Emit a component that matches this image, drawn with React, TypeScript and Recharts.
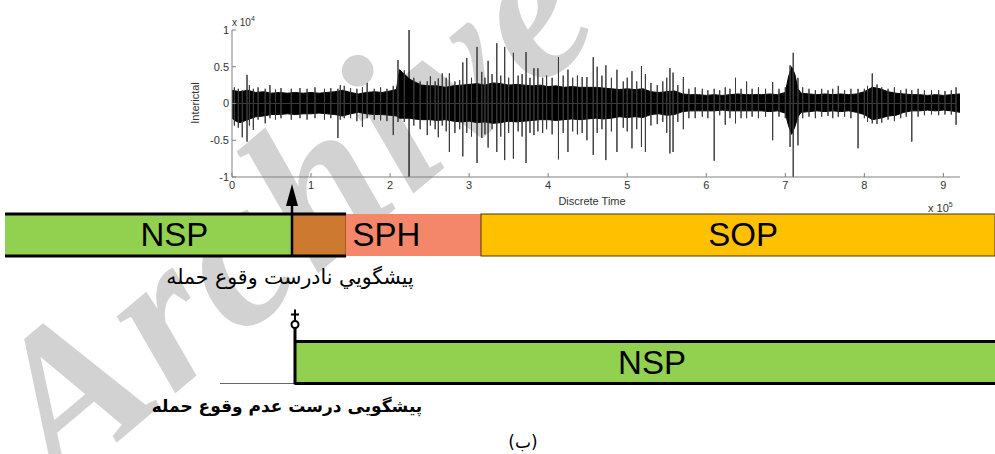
import {
  ComposedChart,
  Area,
  Line,
  XAxis,
  YAxis,
  ReferenceLine,
  BarChart,
  Bar
} from 'recharts'

// dense part of the recording: envelope of the black band (t in 1e5 samples, amplitude in 1e4)
const ENV_T = [
  0, 0.05, 0.1, 0.2, 0.3, 0.4, 0.5, 0.6, 0.7, 0.8,
  0.9, 1.0, 1.1, 1.2, 1.3, 1.4, 1.5, 1.6, 1.7, 1.8,
  1.9, 2.0, 2.08, 2.12, 2.16, 2.2, 2.25, 2.3, 2.4, 2.5,
  2.6, 2.7, 2.8, 2.9, 3.0, 3.1, 3.2, 3.3, 3.4, 3.5,
  3.6, 3.7, 3.8, 3.9, 4.0, 4.1, 4.2, 4.3, 4.4, 4.5,
  4.6, 4.7, 4.8, 4.9, 5.0, 5.1, 5.2, 5.3, 5.4, 5.5,
  5.6, 5.7, 5.8, 5.9, 6.0, 6.1, 6.2, 6.3, 6.4, 6.5,
  6.6, 6.7, 6.8, 6.9, 7.0, 7.04, 7.08, 7.12, 7.16, 7.2,
  7.3, 7.4, 7.5, 7.6, 7.7, 7.8, 7.9, 8.0, 8.1, 8.2,
  8.3, 8.4, 8.5, 8.6, 8.7, 8.8, 8.9, 9.0, 9.1, 9.21
]
const ENV_HI = [
  0.18, 0.17, 0.16, 0.18, 0.15, 0.16, 0.14, 0.15, 0.14, 0.15,
  0.14, 0.15, 0.14, 0.15, 0.16, 0.18, 0.15, 0.13, 0.15, 0.16,
  0.15, 0.17, 0.19, 0.46, 0.42, 0.38, 0.33, 0.3, 0.25, 0.24,
  0.24, 0.22, 0.24, 0.25, 0.26, 0.27, 0.25, 0.28, 0.27, 0.25,
  0.26, 0.25, 0.24, 0.25, 0.23, 0.24, 0.22, 0.23, 0.22, 0.22,
  0.22, 0.21, 0.2, 0.19, 0.2, 0.19, 0.2, 0.16, 0.15, 0.16,
  0.17, 0.13, 0.12, 0.12, 0.11, 0.12, 0.11, 0.12, 0.13, 0.12,
  0.12, 0.12, 0.13, 0.12, 0.15, 0.36, 0.5, 0.4, 0.2, 0.14,
  0.13, 0.12, 0.13, 0.12, 0.13, 0.12, 0.13, 0.16, 0.22, 0.2,
  0.16, 0.14, 0.13, 0.12, 0.12, 0.11, 0.12, 0.11, 0.12, 0.13
]
const ENV_LO = [
  -0.2, -0.24, -0.26, -0.22, -0.18, -0.17, -0.15, -0.15, -0.14, -0.15,
  -0.14, -0.14, -0.13, -0.14, -0.15, -0.17, -0.14, -0.12, -0.14, -0.15,
  -0.15, -0.16, -0.17, -0.2, -0.2, -0.2, -0.2, -0.21, -0.22, -0.22,
  -0.23, -0.22, -0.24, -0.25, -0.24, -0.26, -0.25, -0.27, -0.26, -0.24,
  -0.25, -0.24, -0.23, -0.22, -0.22, -0.23, -0.22, -0.21, -0.22, -0.21,
  -0.2, -0.21, -0.2, -0.18, -0.19, -0.18, -0.19, -0.15, -0.14, -0.16,
  -0.15, -0.11, -0.1, -0.1, -0.1, -0.1, -0.09, -0.1, -0.1, -0.1,
  -0.1, -0.1, -0.11, -0.1, -0.13, -0.3, -0.42, -0.32, -0.18, -0.12,
  -0.11, -0.1, -0.11, -0.1, -0.11, -0.1, -0.12, -0.15, -0.22, -0.2,
  -0.17, -0.16, -0.12, -0.1, -0.1, -0.09, -0.1, -0.09, -0.1, -0.12
]

// single spikes sticking out of the band
const SPIKE_T = [
  0.03, 0.08, 0.13, 0.19, 0.22, 0.27, 0.33, 0.42, 0.48, 0.55,
  0.62, 0.75, 0.86, 0.95, 1.05, 1.17, 1.25, 1.34, 1.37, 1.42,
  1.5, 1.58, 1.65, 1.71, 1.8, 1.88, 1.96, 2.04, 2.1, 2.18,
  2.3, 2.38, 2.47, 2.51, 2.57, 2.61, 2.66, 2.71, 2.75, 2.82,
  2.88, 2.92, 2.97, 3.03, 3.1, 3.16, 3.2, 3.24, 3.29, 3.35,
  3.4, 3.45, 3.5, 3.56, 3.62, 3.67, 3.72, 3.77, 3.82, 3.87,
  3.93, 3.98, 4.05, 4.13, 4.19, 4.25, 4.31, 4.37, 4.43, 4.49,
  4.57, 4.62, 4.68, 4.73, 4.8, 4.87, 4.95, 5.0, 5.06, 5.12,
  5.18, 5.23, 5.3, 5.38, 5.45, 5.5, 5.54, 5.58, 5.64, 5.71,
  5.78, 5.86, 5.95, 6.02, 6.1, 6.17, 6.24, 6.3, 6.37, 6.44,
  6.51, 6.58, 6.66, 6.75, 6.84, 6.92, 7.0, 7.06, 7.1, 7.16,
  7.22, 7.3, 7.38, 7.46, 7.54, 7.6, 7.67, 7.75, 7.83, 7.92,
  8.0, 8.04, 8.1, 8.16, 8.22, 8.3, 8.38, 8.46, 8.53, 8.6,
  8.68, 8.76, 8.85, 8.94, 9.02, 9.1, 9.16
]
const SPIKE_HI = [
  0.22, 0.2, 0.18, 0.39, 0.25, 0.2, 0.22, 0.2, 0.25, 0.19,
  0.21, 0.2, 0.21, 0.2, 0.22, 0.2, 0.21, 0.2, 0.25, 0.24,
  0.21, 0.2, 0.22, 0.28, 0.2, 0.22, 0.2, 0.24, 0.59, 0.45,
  0.35, 0.3, 0.3, 0.37, 0.3, 0.34, 0.41, 0.35, 0.41, 0.3,
  0.32, 0.56, 0.62, 0.35, 0.77, 0.43, 0.35, 0.58, 0.4, 0.82,
  0.38, 0.77, 0.35, 0.69, 0.38, 0.4, 0.7, 0.35, 0.48, 0.48,
  0.35, 0.38, 0.35, 0.63, 0.38, 0.46, 0.35, 0.38, 0.36, 0.36,
  0.63, 0.5, 0.38, 0.52, 0.35, 0.46, 0.3, 0.35, 0.44, 0.3,
  0.51, 0.4, 0.28, 0.25, 0.3, 0.35, 0.48, 0.42, 0.25, 0.36,
  0.2, 0.22, 0.2, 0.18, 0.2, 0.18, 0.22, 0.2, 0.35, 0.2,
  0.3, 0.2, 0.22, 0.2, 0.29, 0.2, 0.22, 0.52, 0.69, 0.35,
  0.22, 0.2, 0.18, 0.2, 0.18, 0.2, 0.24, 0.18, 0.2, 0.2,
  0.2, 0.24, 0.41, 0.26, 0.22, 0.2, 0.22, 0.18, 0.2, 0.18,
  0.2, 0.18, 0.18, 0.18, 0.17, 0.18, 0.22
]
const SPIKE_LO = [
  -0.3, -0.33, -0.46, -0.52, -0.3, -0.36, -0.22, -0.27, -0.2, -0.22,
  -0.2, -0.22, -0.2, -0.22, -0.2, -0.22, -0.2, -0.47, -0.22, -0.2,
  -0.2, -0.24, -0.32, -0.2, -0.22, -0.23, -0.24, -0.43, -0.25, -0.25,
  -0.3, -0.35, -0.43, -0.3, -0.35, -0.46, -0.3, -0.38, -0.66, -0.4,
  -0.35, -0.72, -0.4, -0.45, -0.81, -0.47, -0.42, -0.6, -0.35, -0.66,
  -0.45, -0.77, -0.4, -0.75, -0.38, -0.45, -0.81, -0.4, -0.43, -0.38,
  -0.4, -0.35, -0.42, -0.76, -0.4, -0.66, -0.38, -0.42, -0.4, -0.5,
  -0.7, -0.4, -0.35, -0.77, -0.38, -0.66, -0.33, -0.38, -0.61, -0.35,
  -0.59, -0.66, -0.3, -0.28, -0.25, -0.4, -0.68, -0.66, -0.25, -0.35,
  -0.2, -0.2, -0.18, -0.2, -0.78, -0.16, -0.29, -0.2, -0.27, -0.2,
  -0.2, -0.18, -0.2, -0.18, -0.5, -0.18, -0.2, -0.59, -1.0, -0.57,
  -0.2, -0.18, -0.2, -0.18, -0.17, -0.2, -0.18, -0.18, -0.2, -0.61,
  -0.2, -0.25, -0.27, -0.28, -0.26, -0.22, -0.24, -0.2, -0.18, -0.52,
  -0.18, -0.16, -0.15, -0.16, -0.15, -0.15, -0.29
]

const ONSET_T = 2.24
const X_TICKS = [0, 1, 2, 3, 4, 5, 6, 7, 8, 9]
const Y_TICKS = [-1, -0.5, 0, 0.5, 1]

// schematic bars underneath (lengths in px-like units along the time line)
const ROW_IDS = ['false-alarm', 'correct-rejection']
const SEGMENTS = ['nsp', 'fp', 'sph', 'sop', 'blank', 'tail', 'nsp2']
const ROW1_LEN = [287, 54, 135, 514, 0, 0, 0]
const ROW2_LEN = [0, 0, 0, 0, 215, 75, 700]
const SEG_LABELS: Record<string, string> = { nsp: 'NSP', sph: 'SPH', sop: 'SOP', nsp2: 'NSP' }

const CAPTION_WRONG = 'پیشگويي نادرست وقوع حمله'
const CAPTION_RIGHT = 'پیشگویی درست عدم وقوع حمله'
const FIG_TAG = '(ب)'

const FONT = 'Liberation Sans, Arial, sans-serif'
const FARSI = 'DejaVu Sans, sans-serif'

const bandData = ENV_T.map((t, i) => ({ t, band: [ENV_LO[i], ENV_HI[i]] }))
const spikeData = SPIKE_T.flatMap((t, i) => [
  { t, v: 0 },
  { t, v: SPIKE_HI[i] },
  { t, v: SPIKE_LO[i] },
  { t, v: 0 }
])
const rowData = ROW_IDS.map((row, r) => {
  const lens = r === 0 ? ROW1_LEN : ROW2_LEN
  const o: Record<string, any> = { row }
  SEGMENTS.forEach((s, i) => (o[s] = lens[i]))
  return o
})

const SEG_STYLE: Record<string, { fill: string; stroke?: string; labelAt?: number }> = {
  nsp: { fill: '#92d050', labelAt: 0.59 },
  fp: { fill: '#cd7a30', stroke: '#7a3c14' },
  sph: { fill: '#f4866a', labelAt: 0.3 },
  sop: { fill: '#ffc000', stroke: '#4a3a00', labelAt: 0.51 },
  nsp2: { fill: '#92d050', labelAt: 0.51 }
}

function segShape(seg: string) {
  return (p: any) => {
    const { x, y, width: w, height: h } = p
    if (!w || w <= 0 || seg === 'blank') return <g />
    const st = SEG_STYLE[seg]
    const label = SEG_LABELS[seg]
    if (seg === 'tail') {
      return <line x1={x} x2={x + w} y1={y + h} y2={y + h} stroke="#666" strokeWidth={1} />
    }
    return (
      <g>
        <rect x={x} y={y} width={w} height={h} fill={st.fill} stroke={st.stroke || 'none'} strokeWidth={1} />
        {(seg === 'nsp' || seg === 'fp' || seg === 'nsp2') && (
          <>
            <line x1={x} x2={x + w} y1={y} y2={y} stroke="#000" strokeWidth={3} />
            <line x1={x} x2={x + w} y1={y + h} y2={y + h} stroke="#000" strokeWidth={3} />
          </>
        )}
        {seg === 'fp' && (
          <>
            <line x1={x} x2={x} y1={y + h} y2={y - 10} stroke="#000" strokeWidth={2.5} />
            <polygon points={`${x - 6},${y - 8} ${x + 6},${y - 8} ${x},${y - 30}`} fill="#000" />
          </>
        )}
        {seg === 'nsp2' && (
          <>
            <line x1={x} x2={x} y1={y + h + 1} y2={y - 14} stroke="#000" strokeWidth={3} />
            <circle cx={x} cy={y - 17} r={3.5} fill="#fff" stroke="#000" strokeWidth={2} />
            <line x1={x} x2={x} y1={y - 32} y2={y - 21} stroke="#000" strokeWidth={2} />
            <line x1={x - 4} x2={x + 4} y1={y - 27} y2={y - 27} stroke="#000" strokeWidth={2} />
          </>
        )}
        {label && (
          <text
            x={x + w * (st.labelAt ?? 0.5)}
            y={y + h / 2 + 11}
            textAnchor="middle"
            fontFamily={FONT}
            fontSize={33}
            fill="#000"
          >
            {label}
          </text>
        )}
      </g>
    )
  }
}

const tickStyle = { fill: '#333', fontSize: 11, fontFamily: FONT }

export default function App() {
  return (
    <div style={{ position: 'absolute', left: 0, top: 0, width: 995, height: 454, background: '#fff', overflow: 'hidden' }}>
      <svg width={995} height={454} style={{ position: 'absolute', left: 0, top: 0 }}>
        <text
          transform="translate(60,490) rotate(-40)"
          fontFamily="Liberation Serif, serif"
          fontStyle="italic"
          fontWeight="bold"
          fontSize={210}
          letterSpacing={6}
          fill="#d2d2d2"
        >
          Archive
        </text>
      </svg>

      <div style={{ position: 'absolute', left: 0, top: 0 }}>
        <ComposedChart width={995} height={225} margin={{ top: 30, right: 35, bottom: 18, left: 192 }}>
          <XAxis
            dataKey="t"
            type="number"
            domain={[0, 9.21]}
            ticks={X_TICKS}
            allowDataOverflow
            height={30}
            stroke="#808080"
            tickSize={-4}
            tickMargin={8}
            tick={tickStyle}
          />
          <XAxis
            xAxisId="top"
            orientation="top"
            type="number"
            domain={[0, 9.21]}
            ticks={X_TICKS}
            height={0}
            stroke="#808080"
            tickSize={-4}
            tick={false}
          />
          <YAxis
            type="number"
            domain={[-1, 1]}
            ticks={Y_TICKS}
            allowDataOverflow
            width={40}
            stroke="#808080"
            tickSize={-4}
            tickMargin={7}
            tick={tickStyle}
          />
          <YAxis
            yAxisId="right"
            orientation="right"
            type="number"
            domain={[-1, 1]}
            ticks={Y_TICKS}
            width={0}
            stroke="#808080"
            tickSize={-4}
            tick={false}
          />
          <Area
            data={bandData}
            dataKey="band"
            type="linear"
            stroke="#000"
            strokeWidth={1}
            fill="#000"
            fillOpacity={1}
            dot={false}
            activeDot={false}
            isAnimationActive={false}
          />
          <Line
            data={spikeData}
            dataKey="v"
            type="linear"
            stroke="#3a3a3a"
            strokeWidth={1}
            dot={false}
            activeDot={false}
            isAnimationActive={false}
          />
          <ReferenceLine x={ONSET_T} stroke="#000" strokeWidth={1.2} />
        </ComposedChart>
      </div>

      <div style={{ position: 'absolute', left: 0, top: 0 }}>
        <BarChart
          layout="vertical"
          width={995}
          height={454}
          data={rowData}
          margin={{ top: 171, right: 0, bottom: 28, left: 5 }}
          barSize={42}
        >
          <XAxis type="number" domain={[0, 990]} hide />
          <YAxis type="category" dataKey="row" hide />
          {SEGMENTS.map(s => (
            <Bar key={s} dataKey={s} stackId="row" shape={segShape(s)} isAnimationActive={false} />
          ))}
        </BarChart>
      </div>

      <svg width={995} height={454} style={{ position: 'absolute', left: 0, top: 0, pointerEvents: 'none' }}>
        <text x={232} y={26} fontFamily={FONT} fontSize={10} fill="#333">
          x 10<tspan dy={-5} fontSize={7}>4</tspan>
        </text>
        <text x={928} y={212} fontFamily={FONT} fontSize={11} fill="#333">
          x 10<tspan dy={-5} fontSize={7}>5</tspan>
        </text>
        <text x={592} y={205} textAnchor="middle" fontFamily={FONT} fontSize={11} fill="#333">
          Discrete Time
        </text>
        <text
          transform="translate(199,103) rotate(-90)"
          textAnchor="middle"
          fontFamily={FONT}
          fontSize={11}
          fill="#333"
        >
          Interictal
        </text>
        <text x={290} y={284} textAnchor="middle" fontFamily={FARSI} fontSize={20.5} fill="#000">
          {CAPTION_WRONG}
        </text>
        <text x={287} y={412} textAnchor="middle" fontFamily={FARSI} fontWeight="bold" fontSize={17} fill="#000">
          {CAPTION_RIGHT}
        </text>
        <text x={523} y={448} textAnchor="middle" fontFamily={FARSI} fontSize={17} fill="#000">
          {FIG_TAG}
        </text>
      </svg>
    </div>
  )
}
